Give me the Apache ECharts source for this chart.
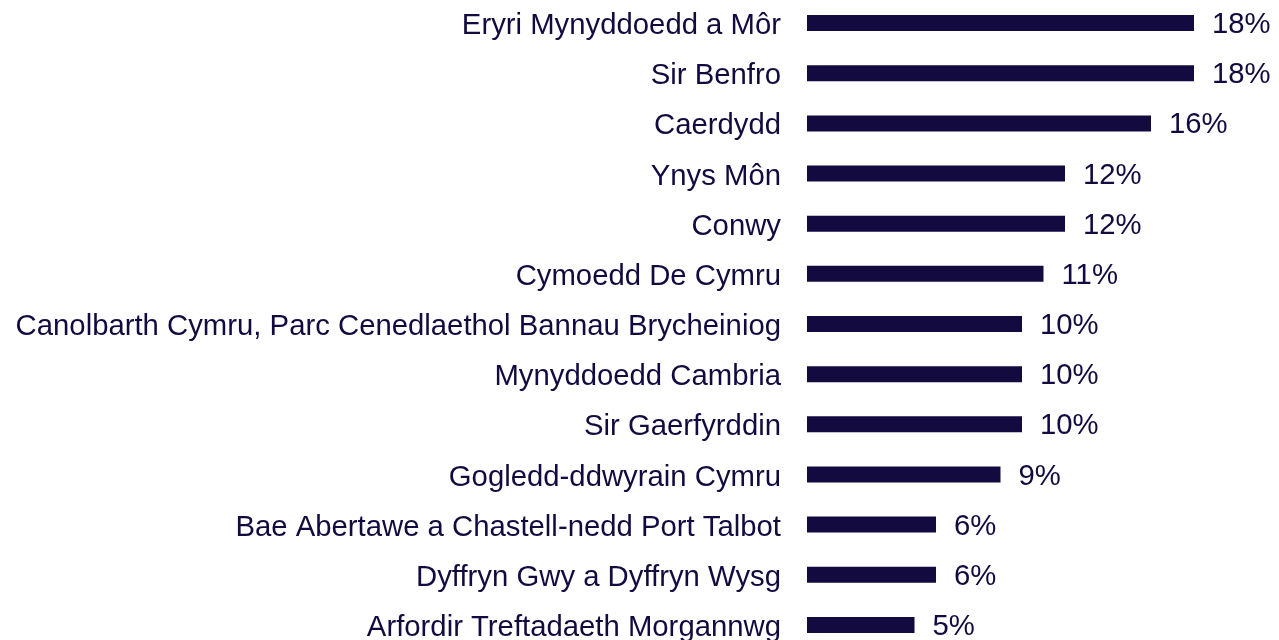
<!DOCTYPE html>
<html>
<head>
<meta charset="utf-8">
<script src="https://cdn.jsdelivr.net/npm/echarts@6/dist/echarts.min.js"></script>
<style>
    html, body { margin: 0; padding: 0; background: #fff; overflow: hidden; }
    #main { position: absolute; left: 0; top: -2px; width: 1279px; height: 662px; }
</style>
</head>
<body>
<div id="main"></div>
<script>
// 地区名称
var regions = [
    'Eryri Mynyddoedd a Môr',
    'Sir Benfro',
    'Caerdydd',
    'Ynys Môn',
    'Conwy',
    'Cymoedd De Cymru',
    'Canolbarth Cymru, Parc Cenedlaethol Bannau Brycheiniog',
    'Mynyddoedd Cambria',
    'Sir Gaerfyrddin',
    'Gogledd-ddwyrain Cymru',
    'Bae Abertawe a Chastell-nedd Port Talbot',
    'Dyffryn Gwy a Dyffryn Wysg',
    'Arfordir Treftadaeth Morgannwg'
];
// 百分比
var shares = [18, 18, 16, 12, 12, 11, 10, 10, 10, 9, 6, 6, 5];

var navy = '#130a40';
var font = 'Liberation Sans, Arial, sans-serif';

(function () {
    var myChart = echarts.init(document.getElementById('main'));
    var option = {
        animation: false,
        grid: {
            left: 807,
            right: 85,
            top: 0,
            height: 652,
            containLabel: false
        },
        xAxis: {
            type: 'value',
            min: 0,
            max: 18,
            show: false
        },
        yAxis: {
            type: 'category',
            inverse: true,
            data: regions,
            axisLine: { show: false },
            axisTick: { show: false },
            splitLine: { show: false },
            axisLabel: {
                margin: 26,
                color: navy,
                fontSize: 29.3,
                fontFamily: font,
                verticalAlign: 'top',
                lineHeight: 6
            }
        },
        series: [{
            type: 'bar',
            data: shares,
            barWidth: 16,
            itemStyle: { color: navy },
            label: {
                show: true,
                position: 'right',
                distance: 18,
                offset: [0, 2],
                formatter: '{c}%',
                color: navy,
                fontSize: 29.3,
                fontFamily: font
            }
        }]
    };
    myChart.setOption(option);
})();
</script>
</body>
</html>
